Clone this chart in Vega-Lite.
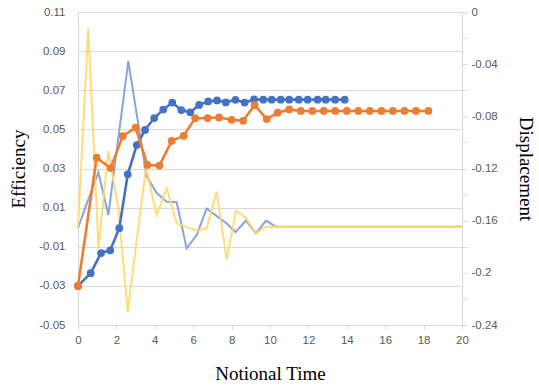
{
  "$schema": "https://vega.github.io/schema/vega-lite/v6.json",
  "width": 384,
  "height": 313,
  "autosize": "none",
  "padding": {"left": 78, "top": 12, "right": 77, "bottom": 62},
  "background": "white",
  "config": {
    "view": {"stroke": null},
    "axis": {
      "labelFont": "Liberation Sans",
      "labelFontSize": 11.5,
      "labelColor": "#595959",
      "titleFont": "Liberation Serif",
      "titleFontSize": 19,
      "titleFontWeight": "normal",
      "titleColor": "#000000",
      "domainColor": "#D9D9D9",
      "tickColor": "#D9D9D9",
      "gridColor": "#D9D9D9"
    }
  },
  "datasets": {
    "thin": [
      {"t": 0, "d": -0.1654, "s": "C"}, {"t": 1.06, "d": -0.1229, "s": "C"}, {"t": 1.58, "d": -0.1557, "s": "C"},
      {"t": 2.62, "d": -0.0376, "s": "C"}, {"t": 3.57, "d": -0.1258, "s": "C"}, {"t": 4.10, "d": -0.1388, "s": "C"},
      {"t": 4.62, "d": -0.1455, "s": "C"}, {"t": 5.14, "d": -0.1459, "s": "C"}, {"t": 5.66, "d": -0.1813, "s": "C"},
      {"t": 6.18, "d": -0.1710, "s": "C"}, {"t": 6.70, "d": -0.1507, "s": "C"}, {"t": 7.21, "d": -0.1563, "s": "C"},
      {"t": 7.73, "d": -0.1620, "s": "C"}, {"t": 8.21, "d": -0.1687, "s": "C"}, {"t": 8.75, "d": -0.1600, "s": "C"},
      {"t": 9.27, "d": -0.1698, "s": "C"}, {"t": 9.79, "d": -0.1600, "s": "C"}, {"t": 10.3, "d": -0.1646, "s": "C"},
      {"t": 20, "d": -0.1646, "s": "C"},
      {"t": 0, "d": -0.1649, "s": "D"}, {"t": 0.536, "d": -0.0125, "s": "D"}, {"t": 1.068, "d": -0.1810, "s": "D"},
      {"t": 1.578, "d": -0.1064, "s": "D"}, {"t": 2.099, "d": -0.1503, "s": "D"}, {"t": 2.589, "d": -0.2300, "s": "D"},
      {"t": 3.542, "d": -0.1189, "s": "D"}, {"t": 4.099, "d": -0.1557, "s": "D"}, {"t": 4.620, "d": -0.1353, "s": "D"},
      {"t": 5.141, "d": -0.1620, "s": "D"}, {"t": 5.661, "d": -0.1649, "s": "D"}, {"t": 6.182, "d": -0.1675, "s": "D"},
      {"t": 6.703, "d": -0.1660, "s": "D"}, {"t": 7.214, "d": -0.1378, "s": "D"}, {"t": 7.745, "d": -0.1896, "s": "D"},
      {"t": 8.229, "d": -0.1524, "s": "D"}, {"t": 8.724, "d": -0.1576, "s": "D"}, {"t": 9.271, "d": -0.1698, "s": "D"},
      {"t": 9.766, "d": -0.1649, "s": "D"}, {"t": 20, "d": -0.1649, "s": "D"}
    ],
    "dots": [
      {"t": 0, "v": -0.030, "s": "A"}, {"t": 0.66, "v": -0.0235, "s": "A"}, {"t": 1.2, "v": -0.0132, "s": "A"},
      {"t": 1.68, "v": -0.0118, "s": "A"}, {"t": 2.15, "v": -0.0005, "s": "A"}, {"t": 2.59, "v": 0.027, "s": "A"},
      {"t": 3.06, "v": 0.042, "s": "A"}, {"t": 3.49, "v": 0.0497, "s": "A"}, {"t": 3.97, "v": 0.0558, "s": "A"},
      {"t": 4.44, "v": 0.0601, "s": "A"}, {"t": 4.91, "v": 0.0637, "s": "A"}, {"t": 5.38, "v": 0.0599, "s": "A"},
      {"t": 5.85, "v": 0.0587, "s": "A"}, {"t": 6.31, "v": 0.0625, "s": "A"}, {"t": 6.78, "v": 0.0643, "s": "A"},
      {"t": 7.24, "v": 0.0648, "s": "A"}, {"t": 7.7, "v": 0.0638, "s": "A"}, {"t": 8.2, "v": 0.0651, "s": "A"},
      {"t": 8.68, "v": 0.0637, "s": "A"}, {"t": 9.17, "v": 0.0653, "s": "A"}, {"t": 9.65, "v": 0.0652, "s": "A"},
      {"t": 10.09, "v": 0.0652, "s": "A"}, {"t": 10.56, "v": 0.0652, "s": "A"}, {"t": 11.0, "v": 0.0652, "s": "A"},
      {"t": 11.5, "v": 0.0652, "s": "A"}, {"t": 11.96, "v": 0.0652, "s": "A"}, {"t": 12.48, "v": 0.0652, "s": "A"},
      {"t": 12.9, "v": 0.0652, "s": "A"}, {"t": 13.39, "v": 0.0652, "s": "A"}, {"t": 13.89, "v": 0.0652, "s": "A"},
      {"t": 0, "v": -0.030, "s": "B"}, {"t": 0.97, "v": 0.0355, "s": "B"}, {"t": 1.7, "v": 0.0302, "s": "B"},
      {"t": 2.33, "v": 0.0466, "s": "B"}, {"t": 3.0, "v": 0.0509, "s": "B"}, {"t": 3.61, "v": 0.0318, "s": "B"},
      {"t": 4.24, "v": 0.0315, "s": "B"}, {"t": 4.88, "v": 0.0441, "s": "B"}, {"t": 5.5, "v": 0.0467, "s": "B"},
      {"t": 6.1, "v": 0.0557, "s": "B"}, {"t": 6.75, "v": 0.0558, "s": "B"}, {"t": 7.35, "v": 0.0561, "s": "B"},
      {"t": 8.0, "v": 0.0549, "s": "B"}, {"t": 8.6, "v": 0.0544, "s": "B"}, {"t": 9.2, "v": 0.0624, "s": "B"},
      {"t": 9.83, "v": 0.0553, "s": "B"}, {"t": 10.4, "v": 0.0585, "s": "B"}, {"t": 11.0, "v": 0.0602, "s": "B"},
      {"t": 11.6, "v": 0.0594, "s": "B"}, {"t": 12.2, "v": 0.0594, "s": "B"}, {"t": 12.8, "v": 0.0594, "s": "B"},
      {"t": 13.4, "v": 0.0594, "s": "B"}, {"t": 14.0, "v": 0.0594, "s": "B"}, {"t": 14.6, "v": 0.0594, "s": "B"},
      {"t": 15.2, "v": 0.0594, "s": "B"}, {"t": 15.8, "v": 0.0594, "s": "B"}, {"t": 16.4, "v": 0.0594, "s": "B"},
      {"t": 17.0, "v": 0.0594, "s": "B"}, {"t": 17.6, "v": 0.0594, "s": "B"}, {"t": 18.25, "v": 0.0594, "s": "B"}
    ]
  },
  "layer": [
    {
      "data": {"name": "thin"},
      "mark": {"type": "line", "strokeWidth": 2, "opacity": 0.9},
      "encoding": {
        "x": {
          "field": "t", "type": "quantitative",
          "scale": {"domain": [0, 20], "nice": false},
          "axis": {
            "title": "Notional Time",
            "values": [0, 2, 4, 6, 8, 10, 12, 14, 16, 18, 20],
            "grid": false, "ticks": true, "tickSize": 4, "labelFlush": false,
            "labelPadding": 5, "titlePadding": 19
          }
        },
        "y": {
          "field": "d", "type": "quantitative",
          "scale": {"domain": [-0.24, 0], "nice": false, "zero": false},
          "axis": {
            "orient": "right",
            "title": "Displacement",
            "values": [0, -0.02, -0.04, -0.06, -0.08, -0.1, -0.12, -0.14, -0.16, -0.18, -0.2, -0.22, -0.24],
            "labelExpr": "abs(round(datum.value*100))%4==0 ? replace(toString(datum.value),'−','-') : ''",
            "grid": false, "ticks": true, "tickSize": 5,
            "labelPadding": 4, "titlePadding": 18
          }
        },
        "color": {
          "field": "s", "type": "nominal",
          "scale": {"domain": ["C", "D"], "range": ["#7A9BD8", "#FFD966"]},
          "legend": null
        }
      }
    },
    {
      "data": {"name": "dots"},
      "encoding": {
        "x": {
          "field": "t", "type": "quantitative",
          "scale": {"domain": [0, 20], "nice": false},
          "axis": {
            "title": "Notional Time",
            "values": [0, 2, 4, 6, 8, 10, 12, 14, 16, 18, 20],
            "grid": false, "ticks": true, "tickSize": 4, "labelFlush": false,
            "labelPadding": 5, "titlePadding": 19
          }
        },
        "y": {
          "field": "v", "type": "quantitative",
          "scale": {"domain": [-0.05, 0.11], "nice": false, "zero": false},
          "axis": {
            "orient": "left",
            "title": "Efficiency",
            "values": [-0.05, -0.03, -0.01, 0.01, 0.03, 0.05, 0.07, 0.09, 0.11],
            "labelExpr": "replace(format(datum.value,'.2f'),'−','-')",
            "grid": true, "ticks": false,
            "labelPadding": 13, "titlePadding": 10
          }
        },
        "color": {
          "field": "s", "type": "nominal",
          "scale": {"domain": ["A", "B"], "range": ["#4472C4", "#ED7D31"]},
          "legend": null
        }
      },
      "layer": [
        {"transform": [{"filter": "datum.s == 'A'"}], "mark": {"type": "line", "strokeWidth": 2.6}},
        {"transform": [{"filter": "datum.s == 'A'"}], "mark": {"type": "point", "filled": true, "size": 60, "opacity": 1}},
        {"transform": [{"filter": "datum.s == 'B'"}], "mark": {"type": "line", "strokeWidth": 2.6}},
        {"transform": [{"filter": "datum.s == 'B'"}], "mark": {"type": "point", "filled": true, "size": 60, "opacity": 1}}
      ]
    }
  ],
  "resolve": {"scale": {"y": "independent", "color": "independent"}}
}
